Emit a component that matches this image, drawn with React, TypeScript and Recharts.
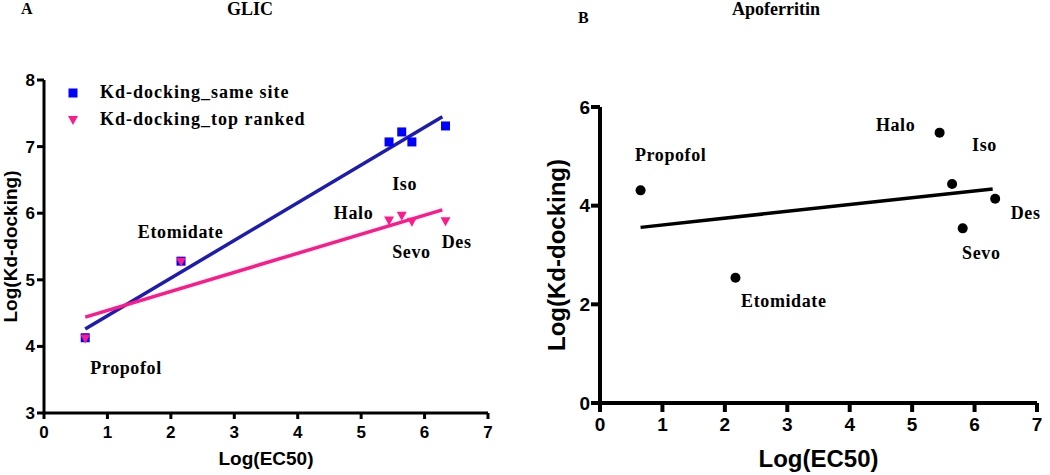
import React from 'react'
import { ScatterChart, Scatter, XAxis, YAxis, ReferenceLine, Legend } from 'recharts'

// values
const drugs = ['Propofol', 'Etomidate', 'Halo', 'Iso', 'Sevo', 'Des']
const glicEc50 = [0.65, 2.16, 5.44, 5.64, 5.8, 6.33]
const glicSameSite = [4.13, 5.28, 7.07, 7.22, 7.07, 7.31]
const glicTopRanked = [4.12, 5.27, 5.89, 5.96, 5.87, 5.88]
const glicLabelX = [0.73, 1.48, 4.57, 5.49, 5.49, 6.27]
const glicLabelY = [3.68, 5.72, 6.01, 6.45, 5.42, 5.57]
const glicFitSame = [{ x: 0.65, y: 4.26 }, { x: 6.28, y: 7.45 }]
const glicFitTop = [{ x: 0.65, y: 4.44 }, { x: 6.28, y: 6.05 }]

const apoEc50 = [0.65, 2.17, 5.44, 5.64, 5.81, 6.33]
const apoKd = [4.31, 2.54, 5.48, 4.44, 3.54, 4.14]
const apoLabelX = [0.56, 2.26, 4.42, 5.96, 5.8, 6.58]
const apoLabelY = [5.04, 2.07, 5.64, 5.24, 3.05, 3.85]
const apoFit = [{ x: 0.65, y: 3.56 }, { x: 6.29, y: 4.34 }]

const glicXTicks = [0, 1, 2, 3, 4, 5, 6, 7]
const glicYTicks = [3, 4, 5, 6, 7, 8]
const apoYTicks = [0, 2, 4, 6]

const seriesNames = ['Kd-docking_same site', 'Kd-docking_top ranked']

const zip = (xs: number[], ys: number[]) => xs.map((x, i) => ({ x, y: ys[i], name: drugs[i] }))

const SANS = '"Liberation Sans", Arial, sans-serif'
const SERIF = '"Liberation Serif", "Times New Roman", serif'
const BLUE = '#0000ff'
const PINK = '#ff1a8c'

const Square = (p: any) => <rect x={p.cx - 4.5} y={p.cy - 4.5} width={9} height={9} fill={BLUE} />
const DownTriangle = (p: any) => (
  <path d={`M${p.cx - 5},${p.cy - 4}L${p.cx + 5},${p.cy - 4}L${p.cx},${p.cy + 5}Z`} fill={PINK} />
)
const Dot = (p: any) => <circle cx={p.cx} cy={p.cy} r={5} fill="#000" />
const LabelText = (p: any) => (
  <text x={p.cx} y={p.cy} dy="0.35em" fontFamily={SERIF} fontWeight="bold" fontSize={18}
    letterSpacing={0.6} fill="#000">
    {p.payload.name}
  </text>
)

const GlicLegend = () => (
  <div style={{ fontFamily: SERIF, fontWeight: 'bold', fontSize: 18, letterSpacing: 1 }}>
    {seriesNames.map((name, i) => (
      <div key={name} style={{ display: 'flex', alignItems: 'center', height: 27 }}>
        <svg width={12} height={12} style={{ marginRight: 21 }}>
          {i === 0
            ? <rect x={1.5} y={1.5} width={9} height={9} fill={BLUE} />
            : <path d="M1,2L11,2L6,11Z" fill={PINK} />}
        </svg>
        <span>{name}</span>
      </div>
    ))}
  </div>
)

const axisStyle = (w: number) => ({ stroke: '#000', strokeWidth: w })
const titleStyle = (left: number, top: number, size: number): React.CSSProperties => ({
  position: 'absolute', left, top, fontFamily: SERIF, fontWeight: 'bold', fontSize: size, lineHeight: 1,
})

export default function App() {
  return (
    <div style={{ position: 'absolute', left: 0, top: 0, width: 1050, height: 475, background: '#fff', overflow: 'hidden' }}>
      <div style={titleStyle(21, 1, 16)}>A</div>
      <div style={titleStyle(227, 0, 18)}>GLIC</div>
      <div style={titleStyle(578, 10, 16)}>B</div>
      <div style={titleStyle(732, 0, 18)}>Apoferritin</div>

      <div style={{ position: 'absolute', left: 0, top: 0 }}>
        <ScatterChart width={520} height={475} margin={{ top: 80, right: 32, bottom: 32, left: 14 }}>
          <XAxis type="number" dataKey="x" domain={[0, 7]} ticks={glicXTicks} height={30}
            axisLine={axisStyle(3)} tickLine={axisStyle(3)} tickSize={6} tickMargin={7}
            tick={{ fill: '#000', fontFamily: SANS, fontWeight: 'bold', fontSize: 17 }}
            label={{ value: 'Log(EC50)', position: 'bottom', offset: 9, fill: '#000', fontFamily: SANS, fontWeight: 'bold', fontSize: 19 }} />
          <YAxis type="number" dataKey="y" domain={[3, 8]} ticks={glicYTicks} width={30}
            axisLine={axisStyle(3)} tickLine={axisStyle(3)} tickSize={7} tickMargin={2}
            tick={{ fill: '#000', fontFamily: SANS, fontWeight: 'bold', fontSize: 17 }}
            label={{ value: 'Log(Kd-docking)', angle: -90, position: 'insideLeft', offset: -4, fill: '#000', fontFamily: SANS, fontWeight: 'bold', fontSize: 19, style: { textAnchor: 'middle' } }} />
          <Legend content={<GlicLegend />} layout="vertical" align="center" verticalAlign="middle"
            wrapperStyle={{ left: 67, top: 79, width: 280 }} />
          <ReferenceLine segment={glicFitSame} stroke="#1c1cb0" strokeWidth={3.5} />
          <ReferenceLine segment={glicFitTop} stroke={PINK} strokeWidth={3.5} />
          <Scatter data={zip(glicEc50, glicSameSite)} shape={Square} isAnimationActive={false} />
          <Scatter data={zip(glicEc50, glicTopRanked)} shape={DownTriangle} isAnimationActive={false} />
          <Scatter data={zip(glicLabelX, glicLabelY)} shape={LabelText} isAnimationActive={false} />
        </ScatterChart>
      </div>

      <div style={{ position: 'absolute', left: 520, top: 0 }}>
        <ScatterChart width={530} height={475} margin={{ top: 107, right: 13, bottom: 42, left: 30 }}>
          <XAxis type="number" dataKey="x" domain={[0, 7]} ticks={glicXTicks} height={30}
            axisLine={axisStyle(4)} tickLine={axisStyle(4)} tickSize={9} tickMargin={6}
            tick={{ fill: '#000', fontFamily: SANS, fontWeight: 'bold', fontSize: 19 }}
            label={{ value: 'Log(EC50)', position: 'bottom', offset: 17, fill: '#000', fontFamily: SANS, fontWeight: 'bold', fontSize: 24 }} />
          <YAxis type="number" dataKey="y" domain={[0, 6]} ticks={apoYTicks} width={50}
            axisLine={axisStyle(4)} tickLine={axisStyle(4)} tickSize={9} tickMargin={1}
            tick={{ fill: '#000', fontFamily: SANS, fontWeight: 'bold', fontSize: 19 }}
            label={{ value: 'Log(Kd-docking)', angle: -90, position: 'insideLeft', offset: 6, fill: '#000', fontFamily: SANS, fontWeight: 'bold', fontSize: 24, style: { textAnchor: 'middle' } }} />
          <ReferenceLine segment={apoFit} stroke="#000" strokeWidth={3.5} />
          <Scatter data={zip(apoEc50, apoKd)} shape={Dot} isAnimationActive={false} />
          <Scatter data={zip(apoLabelX, apoLabelY)} shape={LabelText} isAnimationActive={false} />
        </ScatterChart>
      </div>
    </div>
  )
}
